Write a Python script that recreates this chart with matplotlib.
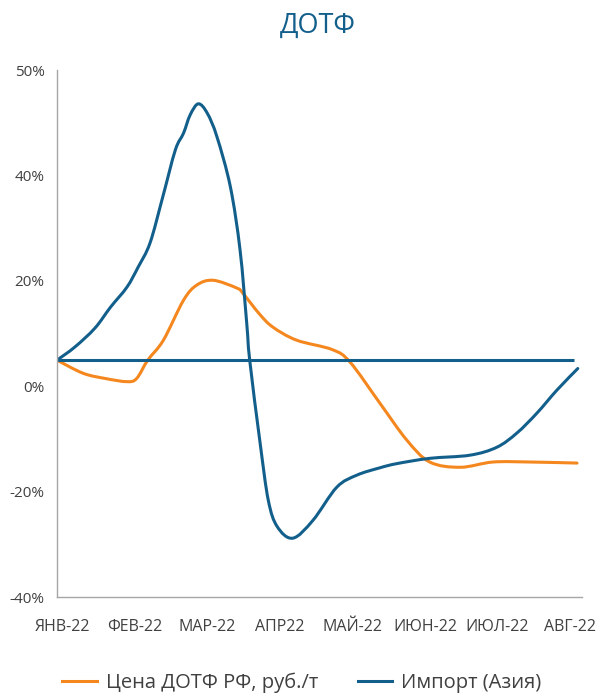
#ДОТФ: price vs import (Asia), change since January

import numpy as np
from matplotlib import pyplot as plt
from matplotlib.path import Path
from matplotlib.patches import PathPatch
from matplotlib.lines import Line2D

plt.rcParams['font.family'] = ['Open Sans', 'DejaVu Sans']

months = ["ЯНВ-22", "ФЕВ-22", "МАР-22", "АПР22", "МАЙ-22", "ИЮН-22", "ИЮЛ-22", "АВГ-22"]
y_labels = ["-40%", "-20%", "0%", "20%", "40%", "50%"]

# price, % change (x is position in months from January)
price_x = [0.00, 0.35, 0.65, 0.94, 1.07, 1.22, 1.43, 1.70, 1.88, 2.10, 2.42, 2.50, 2.72,
           2.90, 3.22, 3.70, 3.94, 4.34, 4.70, 5.01, 5.42, 5.86, 6.36, 6.99]
price_y = [0.0, -2.5, -3.5, -4.1, -3.5, 0.0, 3.8, 11.4, 14.3, 15.2, 13.7, 12.7, 8.8,
           6.3, 3.8, 2.0, -0.4, -8.2, -15.2, -19.4, -20.4, -19.4, -19.4, -19.6]

# import (Asia), % change
imp_x = [0.00, 0.24, 0.51, 0.72, 0.94, 1.09, 1.25, 1.42, 1.59, 1.70, 1.79, 1.90, 2.02,
         2.15, 2.33, 2.46, 2.55, 2.59, 2.73, 2.84, 2.96, 3.17, 3.44, 3.76, 4.03,
         4.34, 4.57, 5.01, 5.55, 5.91, 6.18, 6.45, 6.72, 7.00]
imp_y = [0.0, 2.5, 6.1, 10.1, 13.9, 17.7, 22.3, 31.0, 40.0, 43.2, 46.7, 48.8, 47.0,
         42.5, 33.0, 21.0, 7.0, 0.0, -15.8, -26.7, -31.7, -33.9, -30.5, -24.2, -21.9,
         -20.5, -19.7, -18.7, -18.1, -16.6, -13.9, -10.1, -5.7, -1.6]

orange = "#f5871f"
blue = "#135f8c"
grey_txt = "#404040"


def smooth_line(ax, xs, ys, color):
    # excel-like smoothed line: catmull-rom turned into bezier segments
    p = np.column_stack([xs, ys]).astype(float)
    n = len(p)
    verts = [p[0]]
    codes = [Path.MOVETO]
    for i in range(n - 1):
        p0 = p[max(i - 1, 0)]
        p1 = p[i]
        p2 = p[i + 1]
        p3 = p[min(i + 2, n - 1)]
        c1 = p1 + (p2 - p0) / 6
        c2 = p2 - (p3 - p1) / 6
        verts += [c1, c2, p2]
        codes += [Path.CURVE4] * 3
    ax.add_patch(PathPatch(Path(verts, codes), fill=False, edgecolor=color,
                           lw=2.2, capstyle="round", joinstyle="round"))


fig = plt.figure(figsize=(5.99, 6.95), dpi=100)
ax = fig.add_axes([0.0952, 0.141, 0.8756, 0.758])

ax.hlines(0, 0, 6.95, color=blue, lw=2.2)
smooth_line(ax, price_x, price_y, orange)
smooth_line(ax, imp_x, imp_y, blue)

ax.set_xlim(0, 7.05)
ax.set_ylim(-45.1, 55.2)
ax.set_yticks(np.linspace(-45.1, 55.2, 6))
ax.set_yticklabels(y_labels)
ax.set_xticks(0.07 + 0.975 * np.arange(len(months)))
ax.set_xticklabels(months)
ax.tick_params(axis="y", length=0, pad=9, labelsize=11, labelcolor=grey_txt)
ax.tick_params(axis="x", length=0, pad=16, labelsize=11.5, labelcolor=grey_txt)

for s in ["top", "right"]:
    ax.spines[s].set_visible(False)
for s in ["left", "bottom"]:
    ax.spines[s].set_color("#a6a6a6")
    ax.spines[s].set_linewidth(1)

fig.text(318 / 599, 1 - 26 / 695, "ДОТФ", ha="center", va="center",
         fontsize=19.5, color=blue)

handles = [Line2D([], [], color=orange, lw=2.2), Line2D([], [], color=blue, lw=2.2)]
labels = ["Цена ДОТФ РФ, руб./т", "Импорт (Азия)"]
fig.legend(handles, labels, loc="center", bbox_to_anchor=(302 / 599, 12 / 695), ncol=2,
           frameon=False, fontsize=14.5, handlelength=1.7, handletextpad=0.45,
           columnspacing=2.0, labelcolor=grey_txt)

fig.savefig("out.png", dpi=100)
